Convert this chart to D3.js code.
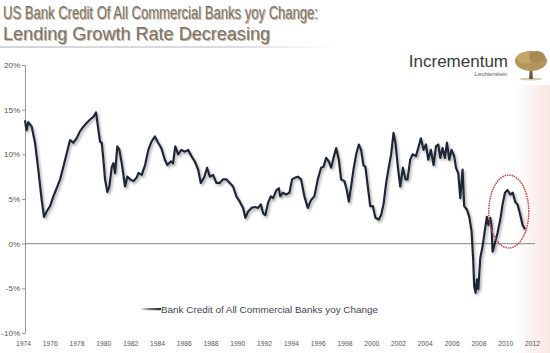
<!DOCTYPE html>
<html>
<head>
<meta charset="utf-8">
<script src="https://cdn.jsdelivr.net/npm/d3@7"></script>
<style>
  body { margin: 0; background: #fff; }
  svg { display: block; font-family: Arial, "Liberation Sans", sans-serif; }
</style>
</head>
<body>
<svg width="550" height="353"></svg>
<script>
// decimal year of each reading
const years = [
  1974.00, 1974.12, 1974.26, 1974.53, 1974.79, 1975.05, 1975.32, 1975.50, 1975.71, 1975.98,
  1976.24, 1976.50, 1976.77, 1977.03, 1977.29, 1977.56, 1977.82, 1978.08, 1978.35, 1978.61,
  1978.87, 1979.14, 1979.40, 1979.61, 1979.79, 1979.93, 1980.06, 1980.19, 1980.32, 1980.50,
  1980.66, 1980.85, 1980.98, 1981.11, 1981.29, 1981.45, 1981.64, 1981.90, 1982.08, 1982.30,
  1982.56, 1982.82, 1982.95, 1983.22, 1983.48, 1983.74, 1983.98, 1984.25, 1984.51, 1984.77,
  1985.04, 1985.24, 1985.51, 1985.69, 1985.87, 1986.09, 1986.35, 1986.62, 1986.88, 1987.14,
  1987.41, 1987.67, 1987.88, 1988.14, 1988.38, 1988.59, 1988.85, 1989.11, 1989.38, 1989.64,
  1989.90, 1990.17, 1990.43, 1990.69, 1990.96, 1991.22, 1991.40, 1991.62, 1991.88, 1992.15,
  1992.41, 1992.62, 1992.80, 1992.98, 1993.20, 1993.41, 1993.59, 1993.85, 1994.04, 1994.15,
  1994.36, 1994.62, 1994.88, 1995.09, 1995.35, 1995.54, 1995.80, 1996.06, 1996.33, 1996.59,
  1996.85, 1997.12, 1997.38, 1997.57, 1997.78, 1997.99, 1998.17, 1998.36, 1998.57, 1998.78,
  1998.96, 1999.22, 1999.41, 1999.57, 1999.75, 1999.94, 2000.15, 2000.36, 2000.54, 2000.72,
  2000.88, 2001.07, 2001.26, 2001.47, 2001.67, 2001.94, 2002.12, 2002.31, 2002.52, 2002.73,
  2002.91, 2003.10, 2003.25, 2003.44, 2003.63, 2003.84, 2004.04, 2004.20, 2004.42, 2004.60,
  2004.87, 2005.05, 2005.26, 2005.47, 2005.66, 2005.84, 2006.05, 2006.26, 2006.45, 2006.63,
  2006.79, 2006.97, 2007.16, 2007.32, 2007.50, 2007.68, 2007.89, 2008.03, 2008.21, 2008.37,
  2008.55, 2008.68, 2008.90, 2009.08, 2009.26, 2009.39, 2009.47, 2009.58, 2009.69, 2009.79,
  2009.95, 2010.13, 2010.32, 2010.47, 2010.58, 2010.74, 2010.84, 2010.92, 2011.11, 2011.31,
  2011.53, 2011.71, 2011.90, 2012.10, 2012.32, 2012.52, 2012.70, 2012.89, 2013.11, 2013.29,
  2013.48
];

// yoy change, %
const growth = [
  13.8, 12.7, 13.6, 13.1, 11.3, 8.3, 4.9, 3.0, 3.6, 4.2,
  5.3, 6.2, 7.2, 8.6, 10.1, 11.6, 11.3, 11.8, 12.6, 13.1,
  13.5, 13.9, 14.2, 14.7, 12.8, 11.4, 11.3, 9.4, 7.2, 5.8,
  6.4, 8.6, 9.0, 7.9, 10.9, 10.5, 9.0, 6.4, 7.5, 7.2,
  7.0, 7.4, 7.9, 7.7, 8.8, 10.5, 11.4, 12.0, 11.3, 10.7,
  9.4, 8.8, 9.2, 9.0, 10.9, 10.0, 10.5, 10.3, 10.5, 9.8,
  9.2, 8.3, 6.8, 7.4, 8.5, 7.5, 7.7, 6.8, 6.8, 7.2,
  7.2, 6.8, 6.4, 5.3, 4.7, 4.0, 2.9, 3.6, 4.0, 4.1,
  4.0, 4.4, 3.4, 3.2, 4.6, 5.3, 5.1, 6.0, 6.2, 5.3,
  5.7, 5.5, 5.7, 7.2, 7.4, 7.5, 7.2, 5.3, 4.0, 4.9,
  5.3, 7.2, 8.5, 8.6, 9.6, 9.2, 8.5, 9.6, 10.7, 9.4,
  7.2, 7.0, 6.0, 4.7, 6.4, 8.3, 10.0, 11.1, 10.5, 8.8,
  8.6, 6.4, 4.2, 4.2, 2.9, 2.7, 3.2, 4.4, 6.8, 8.6,
  10.0, 12.4, 11.3, 8.6, 6.4, 8.5, 7.2, 7.2, 9.4, 10.0,
  9.8, 10.7, 11.8, 10.5, 11.1, 9.4, 10.5, 8.8, 10.9, 11.1,
  9.6, 10.7, 9.6, 11.3, 9.4, 10.5, 9.8, 8.5, 7.9, 5.1,
  8.3, 4.2, 3.8, 3.0, 1.4, -1.8, -4.8, -5.5, -4.0, -5.1,
  -1.6, -0.3, 1.6, 3.0, 2.1, 2.9, 1.9, -0.9, 0.1, 1.2,
  2.7, 4.4, 5.7, 6.0, 5.5, 5.7, 4.7, 4.4, 3.2, 2.1,
  1.6
];

const yTicks = [-10, -5, 0, 5, 10, 15, 20];
const xLabels = [1974, 1976, 1978, 1980, 1982, 1984, 1986, 1988, 1990, 1992,
  1994, 1996, 1998, 2000, 2002, 2004, 2006, 2008, 2010, 2012];

const seriesName = "Bank Credit of All Commercial Banks yoy Change";
const titleLines = ["US Bank Credit Of All Commercial Banks yoy Change:", "Lending Growth Rate Decreasing"];

const data = years.map((t, i) => ({ t: t, v: growth[i] }));

const svg = d3.select("svg");
const defs = svg.append("defs");

// faint pink band on the right edge
const pink = defs.append("linearGradient").attr("id", "pink");
pink.append("stop").attr("offset", "0%").attr("stop-color", "#fff");
pink.append("stop").attr("offset", "100%").attr("stop-color", "#f7e6e2");
svg.append("rect").attr("x", 515).attr("y", 85).attr("width", 35).attr("height", 268)
  .attr("fill", "url(#pink)");

const shadow = defs.append("filter").attr("id", "shadow")
  .attr("x", "-5%").attr("y", "-5%").attr("width", "110%").attr("height", "115%");
shadow.append("feDropShadow").attr("dx", 1.5).attr("dy", 2).attr("stdDeviation", 1.3)
  .attr("flood-color", "#777").attr("flood-opacity", 0.6);

const x = d3.scaleLinear().domain([1974, 2013.48]).range([25, 525]);
const xl = d3.scalePoint().domain(xLabels).range([23, 532]);
const y = d3.scaleLinear().domain([-10, 20]).range([333, 65]);

// title
const title = svg.append("g");
titleLines.forEach((s, i) => {
  const w = i === 0 ? 315 : 267;
  title.append("text").attr("x", 4).attr("y", 20 + i * 21)
    .attr("textLength", w).attr("lengthAdjust", "spacingAndGlyphs")
    .attr("font-size", 18).attr("fill", "#c9b596").text(s);
  title.append("text").attr("x", 3).attr("y", 19 + i * 21)
    .attr("textLength", w).attr("lengthAdjust", "spacingAndGlyphs")
    .attr("font-size", 18).attr("fill", "#7c7470").text(s);
});
const rule = defs.append("linearGradient").attr("id", "rule");
rule.append("stop").attr("offset", "0%").attr("stop-color", "#aaa");
rule.append("stop").attr("offset", "70%").attr("stop-color", "#bbb");
rule.append("stop").attr("offset", "100%").attr("stop-color", "#fff");
svg.append("rect").attr("x", 0).attr("y", 46.5).attr("width", 335).attr("height", 1)
  .attr("fill", "url(#rule)");

// logo
svg.append("text").attr("x", 508).attr("y", 67).attr("text-anchor", "end")
  .attr("font-size", 17).attr("fill", "#3a3a3a").text("Incrementum");
svg.append("text").attr("x", 507).attr("y", 76).attr("text-anchor", "end")
  .attr("font-size", 5.5).attr("fill", "#555").text("Liechtenstein");
const tree = svg.append("g");
tree.append("ellipse").attr("cx", 531).attr("cy", 79).attr("rx", 12).attr("ry", 1.5).attr("fill", "#d8ccb8");
tree.append("path").attr("d", "M529,79 L530,66 L532,66 L533,79 Z").attr("fill", "#6b5a3a");
tree.append("ellipse").attr("cx", 531).attr("cy", 61).attr("rx", 16).attr("ry", 10).attr("fill", "#b4965c");
tree.append("ellipse").attr("cx", 525).attr("cy", 58).attr("rx", 8).attr("ry", 6).attr("fill", "#c2a66c");
tree.append("ellipse").attr("cx", 537).attr("cy", 57).attr("rx", 8).attr("ry", 6).attr("fill", "#a88a52");

// y axis
const yAxis = svg.append("g").attr("transform", "translate(25,0)")
  .call(d3.axisLeft(y).tickValues(yTicks).tickSize(3).tickFormat(d => d + "%"));
yAxis.select(".domain").attr("stroke", "#999");
yAxis.selectAll(".tick line").attr("stroke", "#999");
yAxis.selectAll(".tick text").attr("font-size", 8).attr("fill", "#555")
  .attr("font-family", "Arial, sans-serif").attr("x", -5);

// zero line
svg.append("line").attr("x1", 25).attr("x2", 535).attr("y1", y(0)).attr("y2", y(0))
  .attr("stroke", "#888").attr("stroke-width", 1);

// x labels
const xAxis = svg.append("g").attr("transform", "translate(0,338)")
  .call(d3.axisBottom(xl).tickSize(0).tickPadding(2));
xAxis.select(".domain").remove();
xAxis.selectAll(".tick text").attr("font-size", 8).attr("fill", "#555")
  .attr("font-family", "Arial, sans-serif")
  .attr("textLength", 15).attr("lengthAdjust", "spacingAndGlyphs");

// series
const line = d3.line().x(d => x(d.t)).y(d => y(d.v));
svg.append("path").datum(data).attr("d", line)
  .attr("fill", "none").attr("stroke", "#1f2738").attr("stroke-width", 2.2)
  .attr("stroke-linejoin", "round").attr("filter", "url(#shadow)");

// highlight ring
svg.append("ellipse").attr("cx", x(2012.2)).attr("cy", y(3.6)).attr("rx", 20).attr("ry", 36.5)
  .attr("fill", "none").attr("stroke", "#c0504d").attr("stroke-width", 1.7)
  .attr("stroke-dasharray", "0.1 2.3").attr("stroke-linecap", "round");

// legend
const lg = defs.append("linearGradient").attr("id", "lg");
lg.append("stop").attr("offset", "0%").attr("stop-color", "#fff");
lg.append("stop").attr("offset", "45%").attr("stop-color", "#777");
lg.append("stop").attr("offset", "100%").attr("stop-color", "#1f2738");
svg.append("rect").attr("x", 140).attr("y", 308).attr("width", 21).attr("height", 2.2).attr("fill", "url(#lg)");
svg.append("text").attr("x", 161).attr("y", 313).attr("font-size", 9.5).attr("fill", "#3c4656")
  .attr("textLength", 217).attr("lengthAdjust", "spacingAndGlyphs").text(seriesName);
</script>
</body>
</html>
